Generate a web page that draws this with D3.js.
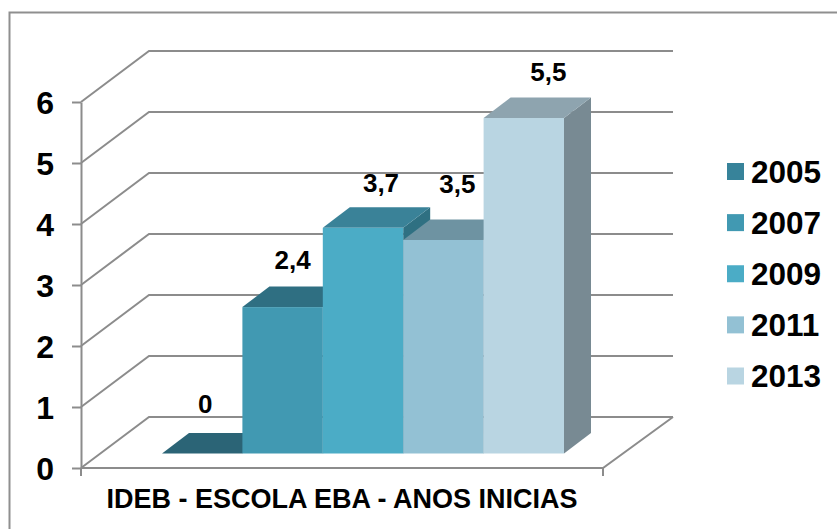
<!DOCTYPE html>
<html><head><meta charset="utf-8">
<script src="https://cdn.jsdelivr.net/npm/d3@7"></script>
<style>
html,body{margin:0;padding:0;background:#fff;overflow:hidden}
text{font-family:"Liberation Sans",Arial,sans-serif;font-weight:bold;fill:#000}
</style></head><body><svg id="c" width="837" height="529"></svg>
<script>
const years = ["2005","2007","2009","2011","2013"];
const values = [0,2.4,3.7,3.5,5.5];
const valueLabels = ["0","2,4","3,7","3,5","5,5"];
const frontColors = ["#37839a","#4199b2","#4bacc6","#93c1d4","#b9d5e2"];
const topColors = ["#2b6476","#2f6f82","#3a8298","#6e93a2","#8ea4af"];
const sideColors = ["#245766","#2a6577","#2f7082","#5f7f8c","#788a93"];
const yTicks = [0,1,2,3,4,5,6];
const categoryTitle = "IDEB - ESCOLA EBA - ANOS INICIAS";

// layout
const wall = {dx:68, dxRight:70, dy:-51}, bar = {dx:27, dy:-20.5}, floorLift = 14.5;
const labelShift = [[3,-20],[10,-18],[18,-15],[14,-27],[24.5,-16.5]];
const axisColor = "#8c8c8c";

const svg = d3.select("#c");
const y = d3.scaleLinear().domain([0,6]).range([468,102]);
const x = d3.scaleBand().domain(years).range([162,564]);
const x0 = 81, x1 = 603;

svg.append("path").attr("d","M9.5,529V12.5H837").attr("fill","none").attr("stroke","#8f8f8f").attr("stroke-width",2);

// walls and gridlines
const path = d3.path;
svg.append("g").selectAll("path").data(yTicks).join("path")
  .attr("fill","none").attr("stroke",axisColor).attr("stroke-width",2)
  .attr("d",d=>{const p=path();p.moveTo(x0,y(d));p.lineTo(x0+wall.dx,y(d)+wall.dy);p.lineTo(x1+wall.dxRight,y(d)+wall.dy);return p.toString();});
svg.append("path").attr("fill","none").attr("stroke",axisColor).attr("stroke-width",2)
  .attr("d",()=>{const p=path();p.moveTo(x1+wall.dxRight,y(0)+wall.dy);p.lineTo(x1,y(0));p.lineTo(x0,y(0));return p.toString();});

// axis
const gy = svg.append("g").attr("transform",`translate(${x0},0)`)
  .call(d3.axisLeft(y).tickValues(yTicks).tickFormat(d3.format("d")).tickSize(9).tickPadding(18).tickSizeOuter(0));
gy.select(".domain").attr("stroke",axisColor).attr("stroke-width",2);
gy.selectAll(".tick line").attr("stroke",axisColor).attr("stroke-width",2);
gy.selectAll("text").style("font-family",'"Liberation Sans",Arial,sans-serif').style("font-weight","bold").style("font-size","32px").attr("fill","#000").attr("dy","0.37em");
[x0,x1].forEach(px=>svg.append("line").attr("x1",px).attr("x2",px).attr("y1",y(0)).attr("y2",y(0)+8).attr("stroke",axisColor).attr("stroke-width",2));

// bars
years.forEach((yr,i)=>{
  const l=x(yr), r=l+x.bandwidth(), b=y(0)-floorLift, t=y(values[i])-floorLift;
  const g=svg.append("g");
  g.append("polygon").attr("fill",sideColors[i])
    .attr("points",[[r,t],[r+bar.dx,t+bar.dy],[r+bar.dx,b+bar.dy],[r,b]].join(" "));
  g.append("polygon").attr("fill",topColors[i])
    .attr("points",[[l,t],[l+bar.dx,t+bar.dy],[r+bar.dx,t+bar.dy],[r,t]].join(" "));
  g.append("rect").attr("fill",frontColors[i]).attr("x",l).attr("y",t).attr("width",x.bandwidth()).attr("height",b-t);
});

// value labels
svg.append("g").selectAll("text").data(years).join("text")
  .attr("text-anchor","middle").attr("font-size",26)
  .attr("x",(d,i)=>x(d)+x.bandwidth()/2+labelShift[i][0])
  .attr("y",(d,i)=>y(values[i])-floorLift+bar.dy+labelShift[i][1])
  .text((d,i)=>valueLabels[i]);

// category title
svg.append("text").attr("x",342).attr("y",508).attr("text-anchor","middle").attr("font-size",27).text(categoryTitle);

// legend
const leg = d3.scalePoint().domain(years).range([163,367.5]);
const lg = svg.append("g").selectAll("g").data(years).join("g").attr("transform",d=>`translate(727,${leg(d)})`);
lg.append("rect").attr("width",17).attr("height",17).attr("fill",(d,i)=>frontColors[i]);
lg.append("text").attr("x",24).attr("y",19.5).attr("font-size",31.5).text(d=>d);
</script></body></html>
